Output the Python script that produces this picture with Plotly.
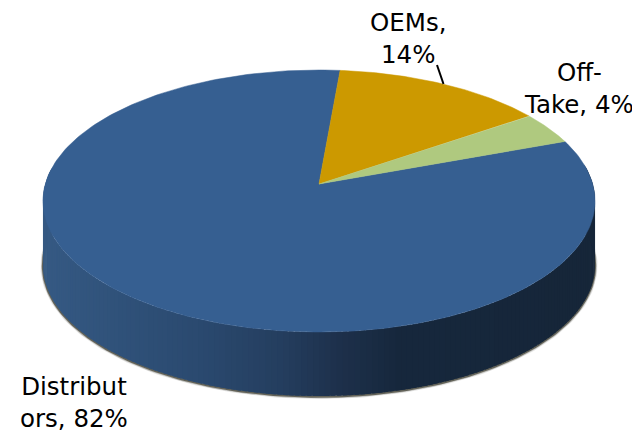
import numpy as np
import plotly.graph_objects as go

categories = ["Distributors", "OEMs", "Off-Take"]
values = [82, 14, 4]
slice_colors = ["#365F91", "#CC9900", "#AFC97F"]
label_text = ["Distribut<br>ors, 82%", "OEMs,<br>14%", "Off-<br>Take, 4%"]
label_pos = [(74, 402), (408, 38.5), (579, 88)]

# The page body has an 8px margin, so the plot area covers the window from 8px on.
PAGE_MARGIN = 8
W, H = 640, 435
CX, CY = 319, 184
A, B, K = 273.7, -104.9, 0.1298
DEPTH = 64
OEM_START_DEG = 5.0


def project(deg, r=1.0):
    t = np.radians(deg)
    u, v = r * np.sin(t), r * np.cos(t)
    w = 1 + K * v
    return CX + A * u / w, (B * v + CY) / w


def arc(d0, d1, n=120):
    return project(np.linspace(d0, d1, n))


def wall_color(x):
    stops_x = [43, 120, 200, 280, 340, 400, 595]
    stops_c = [(0x36, 0x5A, 0x84), (0x30, 0x52, 0x7A), (0x2B, 0x4A, 0x70),
               (0x25, 0x3F, 0x60), (0x1E, 0x31, 0x4C), (0x17, 0x28, 0x3D), (0x16, 0x26, 0x39)]
    c = [int(np.interp(x, stops_x, [s[i] for s in stops_c])) for i in range(3)]
    return "rgb(%d,%d,%d)" % tuple(c)


fig = go.Figure()

start = {1: OEM_START_DEG}
start[2] = start[1] + values[1] * 3.6
start[0] = start[2] + values[2] * 3.6
span = [v * 3.6 for v in values]

right_deg, left_deg = 82.0, 278.0
rim_x, rim_y = arc(right_deg, left_deg, 200)
for width, color in [(5, "rgba(90,90,80,0.16)"), (3.5, "rgba(90,90,80,0.3)"), (2.2, "#626258")]:
    fig.add_trace(go.Scatter(x=rim_x, y=rim_y + DEPTH + 0.6, mode="lines",
                             line=dict(color=color, width=width), hoverinfo="skip"))
edges = np.linspace(right_deg, left_deg, 181)[::-1]
for a0, a1 in zip(edges[:-1], edges[1:]):
    xs, ys = arc(a0, a1 - 0.8, 6)
    px = np.concatenate([xs, xs[::-1]])
    py = np.concatenate([ys, ys[::-1] + DEPTH])
    fig.add_trace(go.Scatter(x=px, y=py, mode="lines", fill="toself",
                             fillcolor=wall_color(float(xs.mean())),
                             line=dict(width=0), hoverinfo="skip"))

for i, cat in enumerate(categories):
    xs, ys = arc(start[i], start[i] + span[i], 240 if i == 0 else 60)
    px = np.concatenate([[CX], xs, [CX]])
    py = np.concatenate([[CY], ys, [CY]])
    fig.add_trace(go.Scatter(x=px, y=py, mode="lines", fill="toself", name=cat,
                             fillcolor=slice_colors[i], line=dict(width=0.5, color=slice_colors[i]),
                             hoverinfo="skip"))

fig.add_trace(go.Scatter(x=[437, 443.5], y=[65, 84], mode="lines",
                         line=dict(color="#000000", width=2), hoverinfo="skip"))

for text, (x, y) in zip(label_text, label_pos):
    fig.add_annotation(x=x, y=y, text=text, showarrow=False, align="center",
                       font=dict(family="DejaVu Sans", size=24.5, color="#000000"))

fig.update_layout(width=W - PAGE_MARGIN, height=H - PAGE_MARGIN,
                  margin=dict(l=0, r=0, t=0, b=0), showlegend=False,
                  paper_bgcolor="white", plot_bgcolor="white",
                  xaxis=dict(range=[PAGE_MARGIN, W], visible=False, fixedrange=True),
                  yaxis=dict(range=[H, PAGE_MARGIN], visible=False, fixedrange=True))
fig.write_html("out.html", config={"displayModeBar": False})
